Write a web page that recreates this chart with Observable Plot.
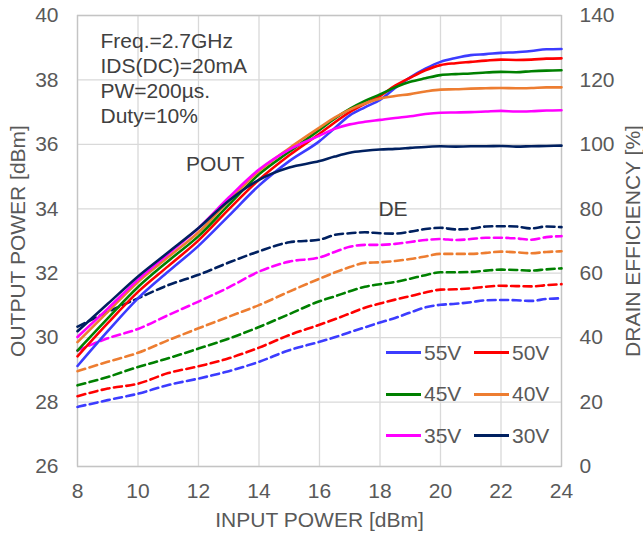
<!DOCTYPE html>
<html>
<head>
<meta charset="utf-8">
<script src="https://cdn.jsdelivr.net/npm/d3@7"></script>
<script src="https://cdn.jsdelivr.net/npm/@observablehq/plot@0.6"></script>
<style>
  body { margin: 0; background: #fff; }
  #chart { position: relative; width: 643px; height: 535px; font-family: "Liberation Sans", Arial, sans-serif; }
  #legend {
    position: absolute; left: 386px; top: 332px;
    display: grid; grid-template-columns: 88px 88px; grid-auto-rows: 41.5px;
    font-size: 21px; color: #595959;
  }
  #legend .item { display: flex; align-items: center; }
  #legend .swatch { width: 35px; height: 3px; margin-right: 3px; }
</style>
</head>
<body>
<div id="chart"></div>
<script>
// Input power sweep [dBm]
const pin = [8, 9, 10, 11, 12, 13, 14, 15, 16, 16.5, 17, 17.5, 18, 18.5, 19, 19.5, 20, 20.5, 21, 21.5, 22, 22.5, 23, 23.5, 24];

// Output power [dBm] per drain voltage
const pout55 = [29.12, 30.2, 31.22, 32.05, 32.85, 33.78, 34.72, 35.48, 36.1, 36.5, 36.9, 37.15, 37.38, 37.75, 38.08, 38.35, 38.56, 38.68, 38.77, 38.8, 38.84, 38.86, 38.9, 38.95, 38.96];
const pout50 = [29.42, 30.45, 31.42, 32.22, 33.02, 33.98, 34.9, 35.66, 36.33, 36.68, 37.0, 37.26, 37.5, 37.82, 38.07, 38.3, 38.46, 38.52, 38.56, 38.6, 38.63, 38.62, 38.63, 38.66, 38.67];
const pout45 = [29.6, 30.6, 31.57, 32.38, 33.15, 34.12, 35.07, 35.77, 36.45, 36.8, 37.1, 37.35, 37.55, 37.77, 37.94, 38.05, 38.15, 38.18, 38.2, 38.23, 38.25, 38.24, 38.27, 38.29, 38.3];
const pout40 = [29.86, 30.8, 31.73, 32.5, 33.27, 34.25, 35.17, 35.88, 36.52, 36.83, 37.08, 37.27, 37.42, 37.5, 37.56, 37.64, 37.7, 37.71, 37.73, 37.74, 37.75, 37.74, 37.75, 37.77, 37.77];
const pout35 = [30.02, 30.9, 31.8, 32.6, 33.4, 34.35, 35.22, 35.84, 36.27, 36.48, 36.62, 36.7, 36.76, 36.82, 36.87, 36.94, 36.98, 36.99, 37.0, 37.02, 37.04, 37.02, 37.03, 37.05, 37.06];
const pout30 = [30.2, 31.05, 31.9, 32.65, 33.4, 34.25, 34.9, 35.28, 35.48, 35.62, 35.74, 35.8, 35.84, 35.86, 35.89, 35.92, 35.94, 35.93, 35.94, 35.94, 35.95, 35.93, 35.94, 35.95, 35.96];

// Drain efficiency [%] per drain voltage
const de55 = [18.5, 20.6, 22.6, 25.3, 27.3, 29.6, 32.5, 36.1, 38.7, 40.1, 41.7, 43.2, 44.7, 46.1, 47.8, 49.4, 50.2, 50.5, 51.0, 51.6, 51.7, 51.6, 51.4, 52.0, 52.2];
const de50 = [21.8, 24.2, 25.7, 29.0, 31.1, 33.6, 36.9, 40.8, 44.0, 45.7, 47.5, 49.3, 50.6, 51.8, 52.9, 54.0, 54.9, 55.0, 55.3, 55.8, 56.1, 56.0, 55.9, 56.3, 56.6];
const de45 = [25.2, 27.8, 30.9, 33.6, 36.6, 39.7, 43.3, 47.3, 51.3, 52.8, 54.4, 55.8, 56.6, 57.3, 58.3, 59.4, 60.3, 60.3, 60.4, 60.8, 61.1, 61.0, 60.8, 61.2, 61.5];
const de40 = [29.6, 32.5, 35.3, 39.2, 42.9, 46.5, 50.1, 54.3, 58.3, 60.2, 61.9, 63.2, 63.4, 63.8, 64.4, 65.2, 66.0, 66.0, 66.0, 66.3, 66.7, 66.5, 66.2, 66.6, 66.8];
const de35 = [36.0, 39.8, 42.7, 47.0, 51.2, 55.6, 60.5, 63.6, 64.9, 66.6, 68.2, 68.8, 68.8, 69.1, 69.7, 70.3, 70.6, 70.3, 70.6, 71.0, 71.0, 70.8, 70.4, 71.2, 71.5];
const de30 = [43.4, 48.0, 52.2, 56.3, 59.5, 63.3, 66.8, 69.6, 70.4, 71.9, 72.4, 72.7, 72.4, 72.3, 72.9, 73.7, 74.1, 73.6, 73.8, 74.5, 74.6, 74.5, 73.9, 74.5, 74.3];

const series = ["55V", "50V", "45V", "40V", "35V", "30V"];
const colors = ["#3c3cff", "#ff0000", "#008000", "#ed7d31", "#ff00ff", "#002060"];
const poutBySeries = [pout55, pout50, pout45, pout40, pout35, pout30];
const deBySeries = [de55, de50, de45, de40, de35, de30];

// Tick labels
const xTicks = [8, 10, 12, 14, 16, 18, 20, 22, 24];
const poutTicks = [26, 28, 30, 32, 34, 36, 38, 40];
const deTicks = [0, 20, 40, 60, 80, 100, 120, 140];

const note = "Freq.=2.7GHz\nIDS(DC)=20mA\nPW=200µs.\nDuty=10%";

// The efficiency axis (0–140 %) shares the plot height with the power axis (26–40 dBm).
const toLeft = e => 26 + e * (40 - 26) / 140;
const fromLeft = v => (v - 26) * 140 / (40 - 26);

const poutRows = series.flatMap((s, k) => pin.map((p, i) => ({pin: p, y: poutBySeries[k][i], series: s})));
const deRows = series.flatMap((s, k) => pin.map((p, i) => ({pin: p, y: toLeft(deBySeries[k][i]), series: s})));

const curveLabels = [
  {label: "POUT", pin: 12.55, y: 35.37},
  {label: "DE", pin: 18.43, y: toLeft(79.7)}
];

const textColor = "#595959";
const noteColor = "#404040";

const chart = Plot.plot({
  width: 643,
  height: 535,
  marginLeft: 77,
  marginRight: 82,
  marginTop: 15,
  marginBottom: 69,
  style: {fontFamily: "'Liberation Sans', Arial, sans-serif", fontSize: "21px", color: textColor, background: "#fff", overflow: "visible"},
  x: {domain: [8, 24]},
  y: {domain: [26, 40]},
  color: {domain: series, range: colors},
  marks: [
    Plot.gridX(xTicks, {stroke: "#d9d9d9", strokeOpacity: 1, strokeWidth: 1.3}),
    Plot.gridY(poutTicks, {stroke: "#d9d9d9", strokeOpacity: 1, strokeWidth: 1.3}),
    Plot.frame({stroke: "#c4c4c4", strokeWidth: 1.3}),
    Plot.axisX(xTicks, {tickSize: 0, tickPadding: 17, label: null}),
    Plot.axisY(poutTicks, {anchor: "left", tickSize: 0, tickPadding: 19, label: null}),
    Plot.axisY(deTicks.map(toLeft), {anchor: "right", tickSize: 0, tickPadding: 18, label: null,
      tickFormat: v => String(Math.round(fromLeft(v)))}),
    Plot.text(["INPUT POWER [dBm]"], {text: d => d, frameAnchor: "bottom", dy: 54, textAnchor: "middle", lineAnchor: "middle", fill: textColor}),
    Plot.text(["OUTPUT POWER [dBm]"], {text: d => d, frameAnchor: "left", dx: -59, rotate: -90, textAnchor: "middle", lineAnchor: "middle", fill: textColor}),
    Plot.text(["DRAIN EFFICIENCY [%]"], {text: d => d, frameAnchor: "right", dx: 71.5, rotate: -90, textAnchor: "middle", lineAnchor: "middle", fill: textColor}),
    Plot.line(deRows, {x: "pin", y: "y", z: "series", stroke: "series", strokeWidth: 2.6, strokeDasharray: "8,4.5", curve: "monotone-x"}),
    Plot.line(poutRows, {x: "pin", y: "y", z: "series", stroke: "series", strokeWidth: 2.6, curve: "monotone-x"}),
    Plot.text([note], {text: d => d, frameAnchor: "top-left", dx: 23, dy: 15, textAnchor: "start", lineAnchor: "top", lineHeight: 1.19, fill: noteColor}),
    Plot.text(curveLabels, {x: "pin", y: "y", text: "label", lineAnchor: "middle", fill: noteColor})
  ]
});

const root = document.getElementById("chart");
root.appendChild(chart);

// Legend: two columns of swatch + voltage
const legend = document.createElement("div");
legend.id = "legend";
series.forEach((s, k) => {
  const item = document.createElement("div");
  item.className = "item";
  const sw = document.createElement("span");
  sw.className = "swatch";
  sw.style.background = colors[k];
  const label = document.createElement("span");
  label.textContent = s;
  item.appendChild(sw);
  item.appendChild(label);
  legend.appendChild(item);
});
root.appendChild(legend);
</script>
</body>
</html>
